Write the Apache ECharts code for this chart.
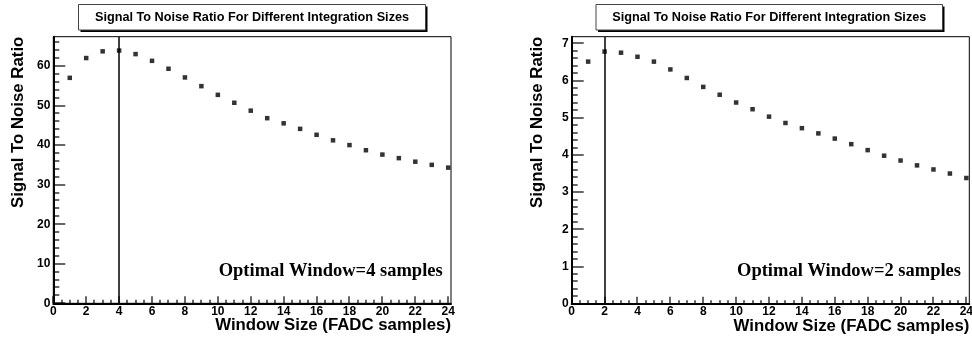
<!DOCTYPE html>
<html>
<head>
<meta charset="utf-8">
<script src="https://cdn.jsdelivr.net/npm/echarts@6/dist/echarts.min.js"></script>
<style>
  html, body { margin: 0; padding: 0; background: #fff; }
  #chart { width: 972px; height: 339px; }
</style>
</head>
<body>
<div id="chart"></div>
<script>
// Integration window sizes (FADC samples)
const windowSizes = [1, 2, 3, 4, 5, 6, 7, 8, 9, 10, 11, 12, 13, 14, 15, 16, 17, 18, 19, 20, 21, 22, 23, 24];

// Signal-to-noise ratio per window size, first channel set
const snrFirst = [57.0, 62.0, 63.7, 63.9, 63.0, 61.3, 59.3, 57.1, 54.9, 52.7, 50.7, 48.7,
                  46.8, 45.5, 44.1, 42.6, 41.2, 40.0, 38.7, 37.6, 36.7, 35.8, 35.0, 34.3];

// Signal-to-noise ratio per window size, second channel set
const snrSecond = [6.51, 6.78, 6.75, 6.64, 6.51, 6.30, 6.07, 5.83, 5.62, 5.41, 5.23, 5.03,
                   4.86, 4.72, 4.58, 4.44, 4.29, 4.13, 3.98, 3.85, 3.72, 3.61, 3.50, 3.38];

// Best window for each set
const optimalFirst = 4;
const optimalSecond = 2;

// Axis tick labels
const xTickLabels = [0, 2, 4, 6, 8, 10, 12, 14, 16, 18, 20, 22, 24];
const yTickLabelsFirst = [0, 10, 20, 30, 40, 50, 60];
const yTickLabelsSecond = [0, 1, 2, 3, 4, 5, 6, 7];

const titleText = 'Signal To Noise Ratio For Different Integration Sizes';
const xTitle = 'Window Size (FADC samples)';
const yTitle = 'Signal To Noise Ratio';

const SANS = '"Liberation Sans", Arial, Helvetica, sans-serif';
const SERIF = '"Liberation Serif", "Times New Roman", serif';

// evenly spaced tick positions (axis decoration only)
function steps(from, to, step) {
  const out = [];
  for (let v = from; v <= to + 1e-9; v += step) out.push(Math.round(v * 1000) / 1000);
  return out;
}

const panels = [
  { grid: { left: 53.3, top: 36.7, width: 397.7, height: 266.6 },
    xMax: 24.17, yMax: 67.4, yTicks: yTickLabelsFirst, yMajorStep: 10, yMinorStep: 2,
    values: snrFirst, optimal: optimalFirst,
    box: { x: 78.5, y: 4.5, w: 347, h: 25.5 },
    noteRight: 442.7 },
  { grid: { left: 571.7, top: 36.7, width: 397.6, height: 267 },
    xMax: 24.18, yMax: 7.18, yTicks: yTickLabelsSecond, yMajorStep: 1, yMinorStep: 0.2,
    values: snrSecond, optimal: optimalSecond,
    box: { x: 596, y: 4.5, w: 346.5, h: 25.5 },
    noteRight: 961 }
];

const grids = [], xAxes = [], yAxes = [], series = [], graphics = [];

panels.forEach((p, i) => {
  grids.push(Object.assign({
    show: true, borderColor: '#000', borderWidth: 1, containLabel: false, outerBoundsMode: 'none'
  }, p.grid));

  const labelStyle = { color: '#000', fontFamily: SANS, fontWeight: 'bold', fontSize: 12 };

  xAxes.push({
    type: 'value', gridIndex: i, position: 'bottom', min: 0, max: p.xMax, interval: 2,
    axisLine: { show: true, onZero: false, lineStyle: { color: '#000', width: 2 } },
    axisTick: { show: false },
    axisLabel: { show: true, margin: 2, customValues: xTickLabels, ...labelStyle },
    splitLine: { show: false }, minorTick: { show: false },
    name: xTitle, nameLocation: 'end', nameGap: 0, nameMoveOverlap: false,
    nameTextStyle: { color: '#000', fontFamily: SANS, fontWeight: 'bold', fontSize: 16.8,
                     align: 'right', verticalAlign: 'top', padding: [14, 0, 0, 0] }
  });

  yAxes.push({
    type: 'value', gridIndex: i, position: 'left', min: 0, max: p.yMax, interval: p.yMajorStep,
    axisLine: { show: true, onZero: false, lineStyle: { color: '#000', width: 2 } },
    axisTick: { show: false },
    axisLabel: { show: true, margin: 3, customValues: p.yTicks, ...labelStyle },
    splitLine: { show: false }, minorTick: { show: false },
    name: yTitle, nameLocation: 'end', nameGap: 0, nameRotate: 90, nameMoveOverlap: false,
    nameTextStyle: { color: '#000', fontFamily: SANS, fontWeight: 'bold', fontSize: 16.8,
                     align: 'right', verticalAlign: 'bottom', padding: [0, 0, 26, 0] }
  });

  series.push({
    type: 'scatter', xAxisIndex: i, yAxisIndex: i,
    data: windowSizes.map((w, k) => [w, p.values[k]]),
    symbol: 'rect', symbolSize: 4.5,
    itemStyle: { color: '#000' },
    emphasis: { disabled: true }, animation: false,
    markLine: {
      silent: true, symbol: 'none', animation: false,
      label: { show: false }, emphasis: { disabled: true },
      lineStyle: { color: '#000', width: 1.5, type: 'solid' },
      data: [{ xAxis: p.optimal }]
    }
  });

  // title pave with drop shadow
  graphics.push({
    type: 'rect', shape: { x: p.box.x + 2, y: p.box.y + 2, width: p.box.w, height: p.box.h },
    style: { fill: '#000' }, silent: true, z: 10
  });
  graphics.push({
    type: 'rect', shape: { x: p.box.x, y: p.box.y, width: p.box.w, height: p.box.h },
    style: { fill: '#fff', stroke: '#444', lineWidth: 1 }, silent: true, z: 11
  });
  graphics.push({
    type: 'text', x: p.box.x + p.box.w / 2, y: p.box.y + p.box.h / 2 + 0.5, z: 12, silent: true,
    style: { text: titleText, fill: '#000', font: 'bold 12.7px ' + SANS,
             textAlign: 'center', textVerticalAlign: 'middle' }
  });
  graphics.push({
    type: 'text', x: p.noteRight, y: 271.7, z: 12, silent: true,
    style: { text: 'Optimal Window=' + p.optimal + ' samples', fill: '#000',
             font: 'bold 18.5px ' + SERIF, textAlign: 'right', textVerticalAlign: 'middle' }
  });
});

const chart = echarts.init(document.getElementById('chart'), null, { renderer: 'canvas' });
chart.setOption({
  animation: false,
  backgroundColor: '#fff',
  grid: grids,
  xAxis: xAxes,
  yAxis: yAxes,
  series: series,
  graphic: graphics
});

// inward tick marks, placed through each panel's axis scales
const tickMarks = [];
panels.forEach((p, i) => {
  steps(0, 24, 0.5).forEach(v => {
    const pt = chart.convertToPixel({ gridIndex: i }, [v, 0]);
    const len = v % 2 === 0 ? 7 : 3.5;
    tickMarks.push({
      type: 'rect', silent: true, z: 20,
      shape: { x: Math.round(pt[0]) - 0.6, y: pt[1] - len, width: 1.2, height: len },
      style: { fill: '#000' }
    });
  });
  steps(0, p.yMax, p.yMinorStep).forEach(v => {
    const major = Math.abs(v / p.yMajorStep - Math.round(v / p.yMajorStep)) < 1e-6;
    const pt = chart.convertToPixel({ gridIndex: i }, [0, v]);
    const len = major ? 12 : 6;
    tickMarks.push({
      type: 'rect', silent: true, z: 20,
      shape: { x: pt[0], y: Math.round(pt[1]) - 0.6, width: len, height: 1.2 },
      style: { fill: '#000' }
    });
  });
});
chart.setOption({ graphic: graphics.concat(tickMarks) });
</script>
</body>
</html>
